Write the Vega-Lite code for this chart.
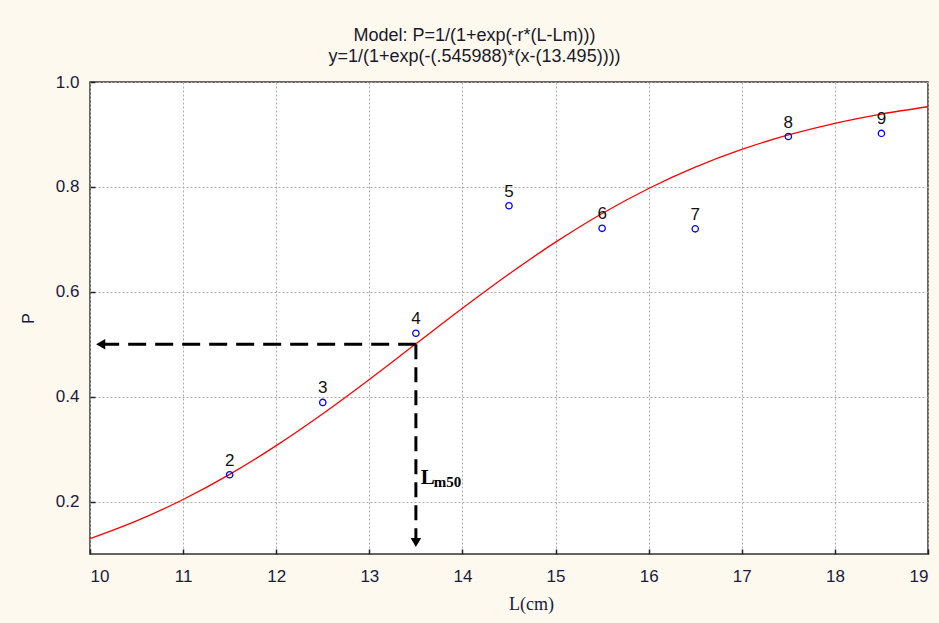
{
  "$schema": "https://vega.github.io/schema/vega-lite/v6.json",
  "width": 838,
  "height": 472,
  "autosize": {"type": "none"},
  "padding": {"left": 90, "top": 82, "right": 11, "bottom": 69},
  "background": "#fdf9ef",
  "title": {
    "text": ["Model: P=1/(1+exp(-r*(L-Lm)))", "y=1/(1+exp(-(.545988)*(x-(13.495))))"],
    "anchor": "middle",
    "frame": "bounds",
    "font": "Liberation Sans",
    "fontSize": 18,
    "fontWeight": "normal",
    "color": "#1a1a2a",
    "lineHeight": 21,
    "offset": 7
  },
  "datasets": {
    "curve": [
      {"L": 10, "P": 0.1292}, {"L": 10.5, "P": 0.1631}, {"L": 11, "P": 0.2039},
      {"L": 11.5, "P": 0.2518}, {"L": 12, "P": 0.3066}, {"L": 12.5, "P": 0.3674},
      {"L": 13, "P": 0.4328}, {"L": 13.5, "P": 0.5007}, {"L": 14, "P": 0.5685},
      {"L": 14.5, "P": 0.6338}, {"L": 15, "P": 0.6946}, {"L": 15.5, "P": 0.7493},
      {"L": 16, "P": 0.797}, {"L": 16.5, "P": 0.8376}, {"L": 17, "P": 0.8714},
      {"L": 17.5, "P": 0.899}, {"L": 18, "P": 0.9213}, {"L": 18.5, "P": 0.9389},
      {"L": 19, "P": 0.9528}
    ],
    "obs": [
      {"L": 11.5, "P": 0.251, "id": "2"},
      {"L": 12.5, "P": 0.389, "id": "3"},
      {"L": 13.5, "P": 0.521, "id": "4"},
      {"L": 14.5, "P": 0.764, "id": "5"},
      {"L": 15.5, "P": 0.721, "id": "6"},
      {"L": 16.5, "P": 0.72, "id": "7"},
      {"L": 17.5, "P": 0.896, "id": "8"},
      {"L": 18.5, "P": 0.902, "id": "9"}
    ],
    "hline": [{"L": 10.12, "L2": 13.5, "P": 0.5}],
    "vline": [{"L": 13.5, "P": 0.5, "P2": 0.128}],
    "harrow": [{"L": 10.115, "P": 0.5}],
    "varrow": [{"L": 13.5, "P": 0.122}],
    "lab": [{"L": 13.552, "P": 0.2335}]
  },
  "layer": [
    {
      "data": {"name": "curve"},
      "mark": {"type": "line", "color": "#ff0000", "strokeWidth": 1.3, "interpolate": "monotone", "clip": true},
      "encoding": {
        "x": {"field": "L", "type": "quantitative",
              "scale": {"domain": [10, 19], "nice": false, "zero": false},
              "axis": {"title": "L(cm)", "values": [10,11,12,13,14,15,16,17,18,19], "format": "d", "titleX": 441, "titlePadding": 11, "titleFont": "Liberation Serif", "titleFontSize": 18}},
        "y": {"field": "P", "type": "quantitative",
              "scale": {"domain": [0.1, 1.0], "nice": false, "zero": false},
              "axis": {"title": "P", "values": [0.2,0.4,0.6,0.8,1.0], "format": ".1f", "titlePadding": 19, "titleFontSize": 16}}
      }
    },
    {
      "data": {"name": "hline"},
      "mark": {"type": "rule", "color": "#000", "strokeWidth": 3, "strokeDash": [18, 9]},
      "encoding": {
        "x": {"field": "L", "type": "quantitative"},
        "x2": {"field": "L2"},
        "y": {"field": "P", "type": "quantitative"}
      }
    },
    {
      "data": {"name": "vline"},
      "mark": {"type": "rule", "color": "#000", "strokeWidth": 3, "strokeDash": [15, 8]},
      "encoding": {
        "x": {"field": "L", "type": "quantitative"},
        "y": {"field": "P", "type": "quantitative"},
        "y2": {"field": "P2"}
      }
    },
    {
      "data": {"name": "harrow"},
      "mark": {"type": "point", "shape": "triangle-left", "filled": true, "color": "#000", "size": 110, "opacity": 1},
      "encoding": {
        "x": {"field": "L", "type": "quantitative"},
        "y": {"field": "P", "type": "quantitative"}
      }
    },
    {
      "data": {"name": "varrow"},
      "mark": {"type": "point", "shape": "triangle-down", "filled": true, "color": "#000", "size": 110, "opacity": 1},
      "encoding": {
        "x": {"field": "L", "type": "quantitative"},
        "y": {"field": "P", "type": "quantitative"}
      }
    },
    {
      "data": {"name": "obs"},
      "mark": {"type": "point", "shape": "circle", "color": "#0000ff", "size": 40, "strokeWidth": 1.3, "filled": false, "opacity": 1},
      "encoding": {
        "x": {"field": "L", "type": "quantitative"},
        "y": {"field": "P", "type": "quantitative"}
      }
    },
    {
      "data": {"name": "obs"},
      "mark": {"type": "text", "font": "Liberation Sans", "fontSize": 17, "color": "#111", "dy": -14},
      "encoding": {
        "x": {"field": "L", "type": "quantitative"},
        "y": {"field": "P", "type": "quantitative"},
        "text": {"field": "id"}
      }
    },
    {
      "data": {"name": "lab"},
      "mark": {"type": "text", "text": "L", "font": "Liberation Serif", "fontWeight": "bold", "fontSize": 21, "color": "#000", "align": "left", "baseline": "alphabetic"},
      "encoding": {
        "x": {"field": "L", "type": "quantitative"},
        "y": {"field": "P", "type": "quantitative"}
      }
    },
    {
      "data": {"name": "lab"},
      "mark": {"type": "text", "text": "m50", "font": "Liberation Serif", "fontWeight": "bold", "fontSize": 15, "color": "#000", "align": "left", "baseline": "alphabetic", "dx": 13, "dy": 3},
      "encoding": {
        "x": {"field": "L", "type": "quantitative"},
        "y": {"field": "P", "type": "quantitative"}
      }
    }
  ],
  "config": {
    "view": {"stroke": "#333", "strokeWidth": 1.5, "fill": "#ffffff"},
    "axis": {
      "domain": false,
      "grid": true,
      "gridColor": "#aaaaaa",
      "gridDash": [2, 2],
      "gridWidth": 1,
      "tickSize": -5,
      "tickColor": "#222",
      "tickWidth": 1.5,
      "labelFont": "Liberation Sans",
      "labelFontSize": 17,
      "labelColor": "#1a1a40",
      "titleFont": "Liberation Sans",
      "titleFontSize": 16,
      "titleFontWeight": "normal",
      "titleColor": "#1a1a40"
    },
    "axisX": {"labelPadding": 19},
    "axisY": {"labelPadding": 16}
  }
}
